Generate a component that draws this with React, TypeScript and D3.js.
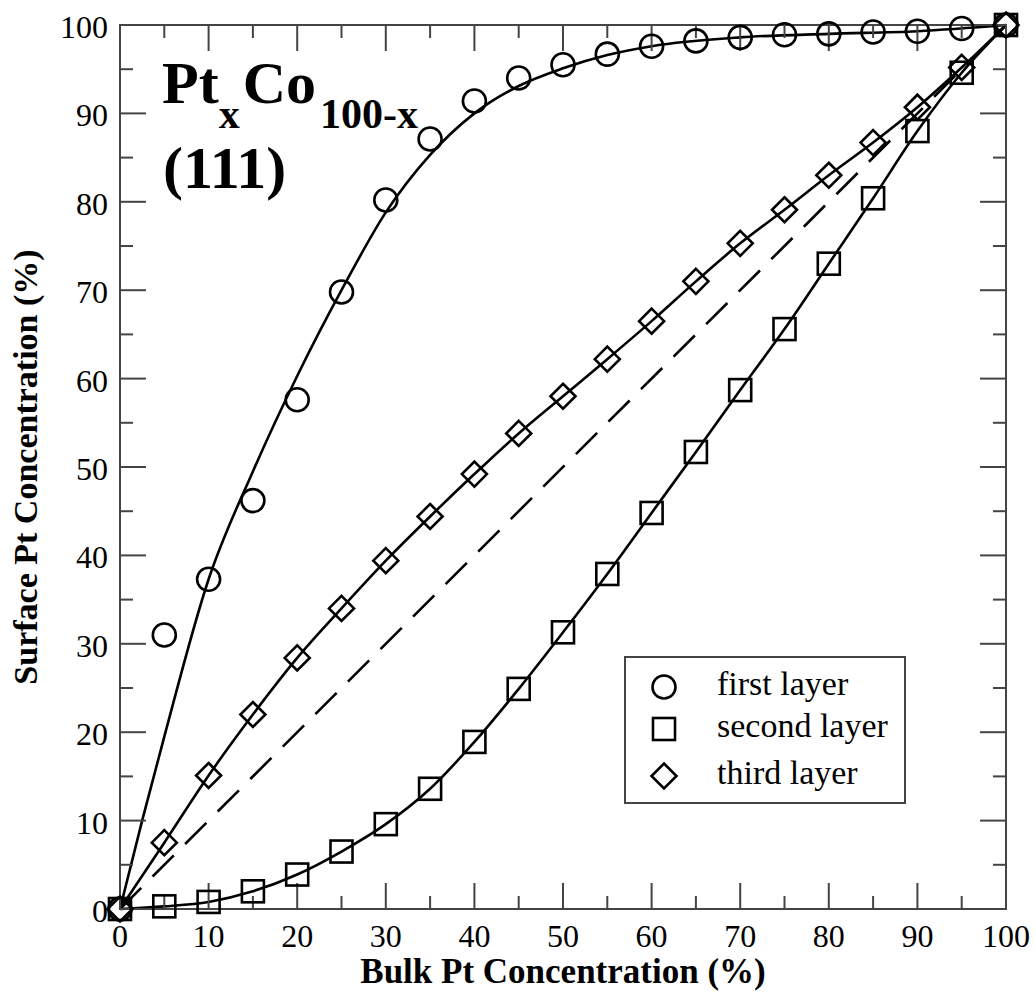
import React from "react";
import * as d3 from "d3";

// Bulk Pt concentration (%) at which each layer was sampled
const bulkPt = [0, 5, 10, 15, 20, 25, 30, 35, 40, 45, 50, 55, 60, 65, 70, 75, 80, 85, 90, 95, 100];

// Surface Pt concentration (%) per layer
const firstLayer = [0, 31.0, 37.3, 46.2, 57.6, 69.8, 80.2, 87.1, 91.4, 94.0, 95.5, 96.7, 97.6, 98.2, 98.6, 98.9, 99.0, 99.2, 99.3, 99.6, 100];
const secondLayer = [0, 0.3, 0.8, 2.0, 3.9, 6.5, 9.6, 13.6, 18.9, 24.9, 31.3, 37.9, 44.8, 51.7, 58.7, 65.6, 73.0, 80.4, 88.0, 94.6, 100];
const thirdLayer = [0, 7.5, 15.1, 22.0, 28.4, 34.0, 39.4, 44.4, 49.2, 53.8, 58.0, 62.2, 66.5, 71.0, 75.3, 79.1, 83.0, 86.7, 90.7, 95.2, 100];

// Fitted curve for the first layer
const firstFitX = [0, 2.5, 5, 10, 15, 20, 25, 30, 35, 40, 45, 50, 55, 60, 70, 80, 90, 100];
const firstFitY = [0, 10, 19.5, 37.3, 49.5, 60.3, 70.0, 78.8, 85.3, 90.0, 93.1, 95.1, 96.6, 97.6, 98.6, 99.0, 99.3, 100];

const xTicks = [0, 10, 20, 30, 40, 50, 60, 70, 80, 90, 100];
const yTicks = [0, 10, 20, 30, 40, 50, 60, 70, 80, 90, 100];
const minorTicks = [5, 15, 25, 35, 45, 55, 65, 75, 85, 95];

const legendItems = ["first layer", "second layer", "third layer"];

const W = 1036;
const H = 992;
const left = 120, right = 1006, top = 25, bottom = 909;

const x = d3.scaleLinear().domain([0, 100]).range([left, right]);
const y = d3.scaleLinear().domain([0, 100]).range([bottom, top]);

const serif = "'Liberation Serif', 'Times New Roman', serif";
const axisColor = "#444";

const line = d3
  .line<[number, number]>()
  .x((d) => x(d[0]))
  .y((d) => y(d[1]))
  .curve(d3.curveMonotoneX);

function Marker({ kind, cx, cy }: { kind: number; cx: number; cy: number }) {
  const common = { fill: "none", stroke: "#000", strokeWidth: 2.6 };
  if (kind === 0) return <circle cx={cx} cy={cy} r={11.5} {...common} />;
  if (kind === 1) return <rect x={cx - 11} y={cy - 11} width={22} height={22} {...common} />;
  const r = 12.5;
  return (
    <path
      d={`M${cx},${cy - r}L${cx + r},${cy}L${cx},${cy + r}L${cx - r},${cy}Z`}
      {...common}
    />
  );
}

export default function App() {
  const series = [firstLayer, secondLayer, thirdLayer];
  const zip = (xs: number[], ys: number[]) => xs.map((v, i) => [v, ys[i]] as [number, number]);

  return (
    <svg
      width={W}
      height={H}
      style={{ position: "absolute", left: 0, top: 0, background: "#fff" }}
      fontFamily={serif}
    >
      <rect width={W} height={H} fill="#fff" />

      {/* diagonal reference: surface equals bulk */}
      <path
        d={line([[0, 0], [100, 100]]) ?? ""}
        fill="none"
        stroke="#000"
        strokeWidth={2.6}
        strokeDasharray="30 16"
      />

      {/* fitted curves */}
      <path d={line(zip(firstFitX, firstFitY)) ?? ""} fill="none" stroke="#000" strokeWidth={2.6} />
      <path d={line(zip(bulkPt, secondLayer)) ?? ""} fill="none" stroke="#000" strokeWidth={2.6} />
      <path d={line(zip(bulkPt, thirdLayer)) ?? ""} fill="none" stroke="#000" strokeWidth={2.6} />

      {/* frame */}
      <rect
        x={left}
        y={top}
        width={right - left}
        height={bottom - top}
        fill="none"
        stroke={axisColor}
        strokeWidth={2}
      />

      {/* ticks on all four sides, pointing inward */}
      {xTicks.map((t) => (
        <g key={"xm" + t} stroke={axisColor} strokeWidth={2}>
          <line x1={x(t)} x2={x(t)} y1={bottom} y2={bottom - 26} />
          <line x1={x(t)} x2={x(t)} y1={top} y2={top + 26} />
        </g>
      ))}
      {minorTicks.map((t) => (
        <g key={"xn" + t} stroke={axisColor} strokeWidth={2}>
          <line x1={x(t)} x2={x(t)} y1={bottom} y2={bottom - 13} />
          <line x1={x(t)} x2={x(t)} y1={top} y2={top + 13} />
        </g>
      ))}
      {yTicks.map((t) => (
        <g key={"ym" + t} stroke={axisColor} strokeWidth={2}>
          <line x1={left} x2={left + 26} y1={y(t)} y2={y(t)} />
          <line x1={right} x2={right - 26} y1={y(t)} y2={y(t)} />
        </g>
      ))}
      {minorTicks.map((t) => (
        <g key={"yn" + t} stroke={axisColor} strokeWidth={2}>
          <line x1={left} x2={left + 13} y1={y(t)} y2={y(t)} />
          <line x1={right} x2={right - 13} y1={y(t)} y2={y(t)} />
        </g>
      ))}

      {/* tick labels */}
      {xTicks.map((t) => (
        <text key={"xl" + t} x={x(t)} y={947} textAnchor="middle" fontSize={32} fill="#000">
          {t}
        </text>
      ))}
      {yTicks.map((t) => (
        <text key={"yl" + t} x={108} y={y(t) + 13} textAnchor="end" fontSize={32} fill="#000">
          {t}
        </text>
      ))}

      {/* axis titles */}
      <text x={(left + right) / 2} y={983} textAnchor="middle" fontSize={35} fontWeight="bold">
        Bulk Pt Concentration (%)
      </text>
      <text
        transform={`translate(37,${(top + bottom) / 2}) rotate(-90)`}
        textAnchor="middle"
        fontSize={34}
        fontWeight="bold"
      >
        Surface Pt Concentration (%)
      </text>

      {/* markers */}
      {series.map((vals, k) =>
        vals.map((v, i) => <Marker key={`m${k}-${i}`} kind={k} cx={x(bulkPt[i])} cy={y(v)} />)
      )}

      {/* composition label */}
      <text x={162} y={103} fontSize={60} fontWeight="bold">
        Pt
        <tspan dy={25} fontSize={42}>x</tspan>
        <tspan dx={3} dy={-25} fontSize={60}>Co</tspan>
        <tspan dx={4} dy={25} fontSize={42}>100-x</tspan>
      </text>
      <text x={163} y={188} fontSize={60} fontWeight="bold">
        (111)
      </text>

      {/* legend */}
      <rect x={625} y={657} width={280} height={146} fill="#fff" stroke={axisColor} strokeWidth={2} />
      {legendItems.map((name, i) => {
        const cy = [687, 729, 776][i];
        return (
          <g key={name}>
            <Marker kind={i} cx={664} cy={cy} />
            <text x={717} y={cy + 8} fontSize={34}>
              {name}
            </text>
          </g>
        );
      })}
    </svg>
  );
}
